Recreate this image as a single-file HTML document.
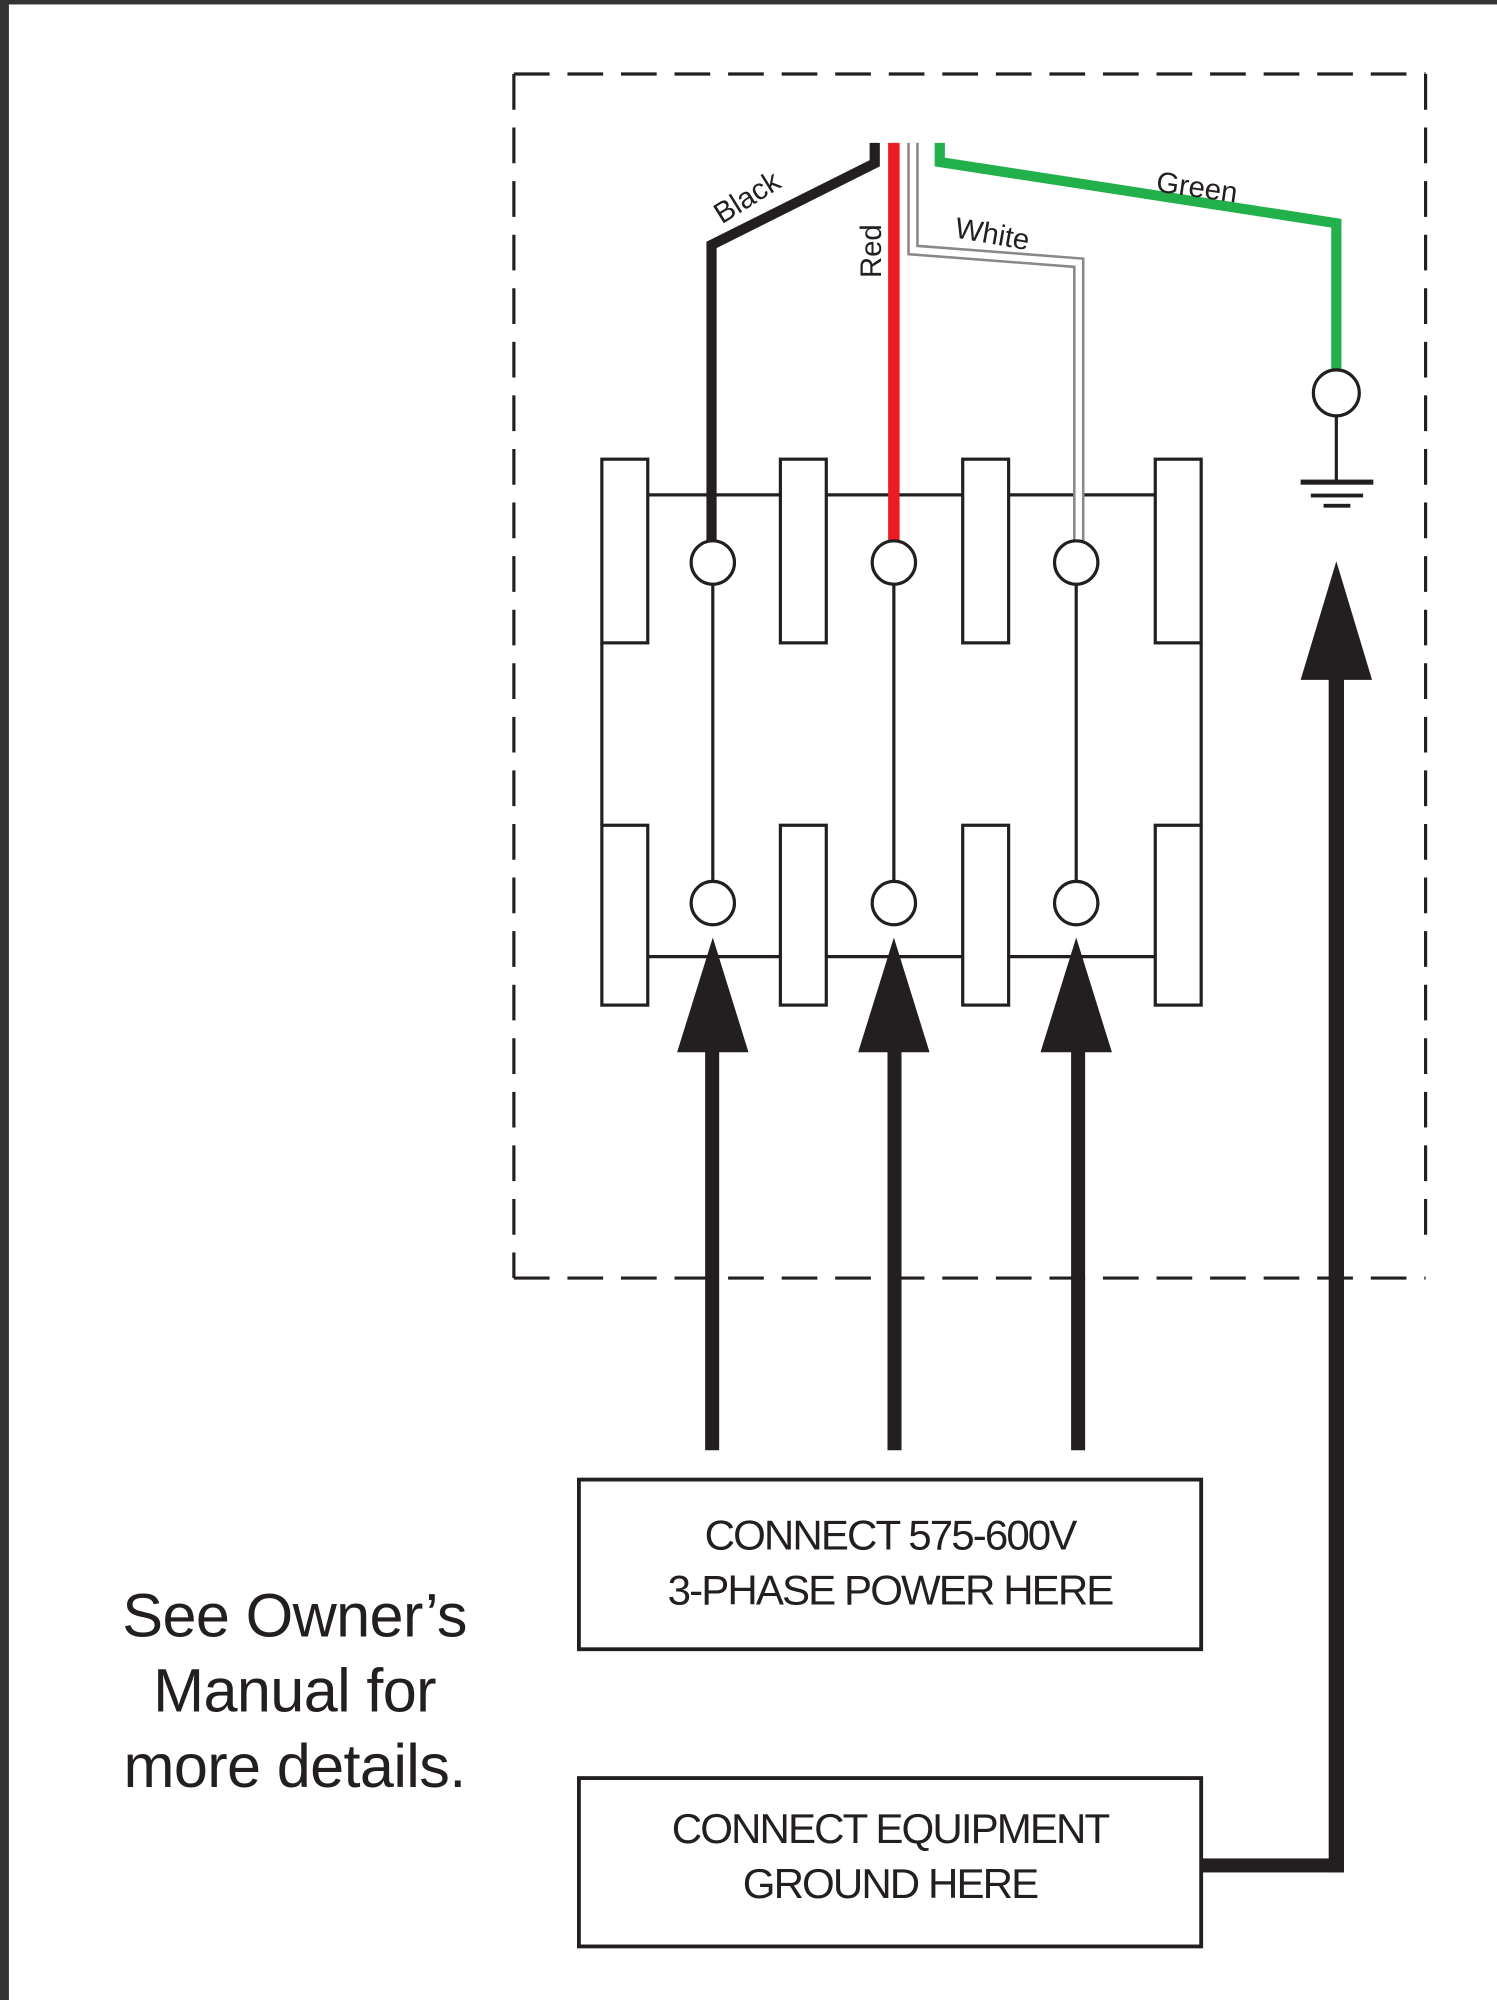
<!DOCTYPE html>
<html><head><meta charset="utf-8"><style>
html,body{margin:0;padding:0;background:#fff;}
svg{display:block;}
text{font-family:"Liberation Sans",sans-serif;fill:#231f20;}
</style></head><body>
<svg width="1497" height="2000" viewBox="0 0 1174 1568" preserveAspectRatio="none" xmlns="http://www.w3.org/2000/svg">
<rect x="0" y="0" width="1174" height="1568" fill="#fff"/>
<rect x="0" y="0" width="1174" height="3.5" fill="#333"/>
<rect x="0" y="0" width="7" height="1568" fill="#333"/>
<g stroke="#231f20" stroke-width="2.5" fill="none" stroke-dasharray="28,14">
<line x1="403" y1="58" x2="1118" y2="58"/>
<line x1="403" y1="58" x2="403" y2="1002"/>
<line x1="1118" y1="58" x2="1118" y2="978"/>
<line x1="403" y1="1002" x2="1118" y2="1002"/>
</g>
<g stroke="#231f20" stroke-width="2.5" fill="#fff">
<line x1="508" y1="388" x2="906" y2="388"/>
<line x1="508" y1="750" x2="906" y2="750"/>
<line x1="472" y1="504" x2="472" y2="647"/>
<line x1="942" y1="504" x2="942" y2="647"/>
<rect x="472" y="360" width="36" height="144"/>
<rect x="612" y="360" width="36" height="144"/>
<rect x="755" y="360" width="36" height="144"/>
<rect x="906" y="360" width="36" height="144"/>
<rect x="472" y="647" width="36" height="141"/>
<rect x="612" y="647" width="36" height="141"/>
<rect x="755" y="647" width="36" height="141"/>
<rect x="906" y="647" width="36" height="141"/>
<line x1="559" y1="458" x2="559" y2="691"/>
<line x1="701" y1="458" x2="701" y2="691"/>
<line x1="844" y1="458" x2="844" y2="691"/>
</g>
<polyline points="686,112 686,128 558,192 558,424" stroke="#231f20" stroke-width="8" fill="none"/>
<line x1="701" y1="112" x2="701" y2="424" stroke="#ed1c24" stroke-width="9"/>
<polyline points="716,112 716,196 846,206 846,424" stroke="#888" stroke-width="9" fill="none"/>
<polyline points="716,112 716,196 846,206 846,424" stroke="#fff" stroke-width="5" fill="none"/>
<polyline points="737,112 737,127 1048,175 1048,292" stroke="#22b04b" stroke-width="8" fill="none"/>
<g stroke="#231f20" stroke-width="2.5" fill="#fff">
<circle cx="559" cy="441" r="17"/><circle cx="701" cy="441" r="17"/><circle cx="844" cy="441" r="17"/>
<circle cx="559" cy="708" r="17"/><circle cx="701" cy="708" r="17"/><circle cx="844" cy="708" r="17"/>
<circle cx="1048" cy="308" r="18"/>
<line x1="1048" y1="326" x2="1048" y2="378"/>
</g>
<g fill="#231f20">
<rect x="1020" y="376" width="57" height="4"/>
<rect x="1028" y="387" width="41" height="3"/>
<rect x="1038" y="395" width="21" height="3"/>
</g>
<text transform="translate(566,176) rotate(-32)" font-size="23">Black</text>
<text transform="translate(691,218) rotate(-90)" font-size="23">Red</text>
<text transform="translate(748,186) rotate(10)" font-size="23">White</text>
<text transform="translate(906,150) rotate(8)" font-size="23">Green</text>
<g fill="#231f20">
<rect x="553" y="820" width="11" height="317"/>
<rect x="696" y="820" width="11" height="317"/>
<rect x="840" y="820" width="11" height="317"/>
<polygon points="559,735 531,825 587,825"/>
<polygon points="701,735 673,825 729,825"/>
<polygon points="844,735 816,825 872,825"/>
<rect x="1042" y="528" width="12" height="940"/>
<rect x="942" y="1457" width="112" height="11"/>
<polygon points="1048,440 1020,533 1076,533"/>
</g>
<g stroke="#231f20" stroke-width="3" fill="#fff">
<rect x="454" y="1160" width="488" height="133"/>
<rect x="454" y="1394" width="488" height="132"/>
</g>
<g font-size="33" text-anchor="middle" letter-spacing="-1.5">
<text x="698" y="1215">CONNECT 575-600V</text>
<text x="698" y="1258">3-PHASE POWER HERE</text>
<text x="698" y="1445">CONNECT EQUIPMENT</text>
<text x="698" y="1488">GROUND HERE</text>
</g>
<g font-size="48" text-anchor="middle" letter-spacing="-0.5">
<text x="231" y="1283">See Owner’s</text>
<text x="231" y="1342">Manual for</text>
<text x="231" y="1401">more details.</text>
</g>
</svg>
</body></html>
